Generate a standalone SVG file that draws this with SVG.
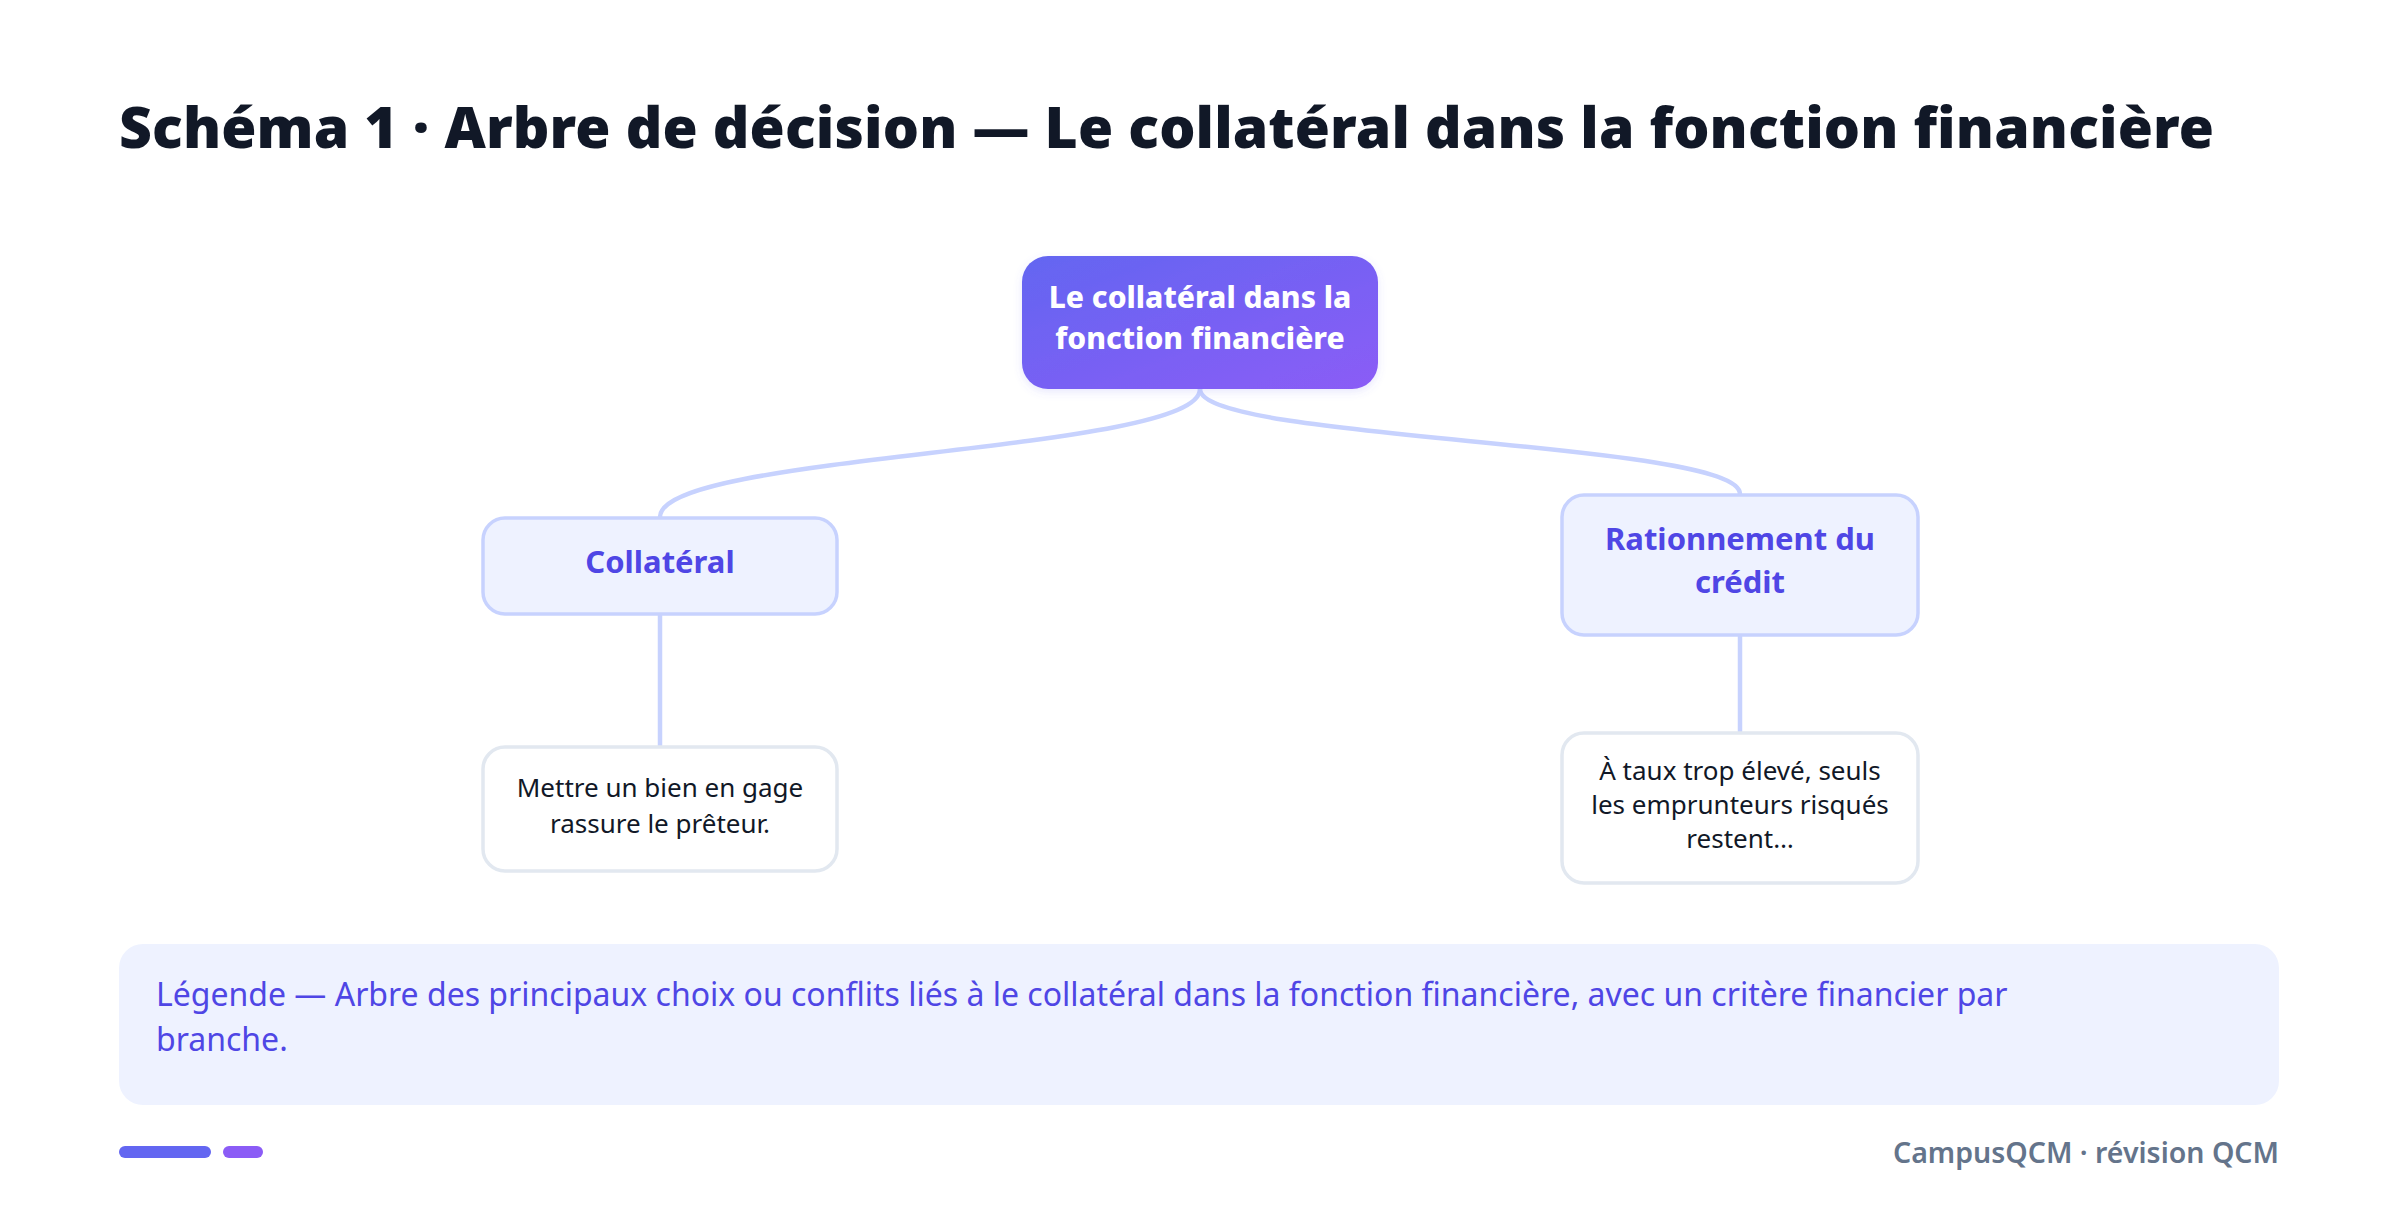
<svg xmlns="http://www.w3.org/2000/svg" width="2400" height="1214" viewBox="0 0 2400 1214">
<defs>
<linearGradient id="rootGrad" x1="0" y1="0" x2="1" y2="1">
<stop offset="0" stop-color="#6366f1"/>
<stop offset="1" stop-color="#8b5cf6"/>
</linearGradient>
<filter id="shadow" x="-10%" y="-10%" width="120%" height="130%">
<feDropShadow dx="0" dy="3" stdDeviation="4" flood-color="#6366f1" flood-opacity="0.15"/>
</filter>
</defs>
<style>
text{font-family:"Noto Sans","Open Sans","Liberation Sans",sans-serif}
.title{font-size:57px;font-weight:900;fill:#111827}
.root-t{font-size:30px;font-weight:800;fill:#ffffff;text-anchor:middle}
.mid{fill:#eef2ff;stroke:#c7d2fe;stroke-width:3.5}
.mid-t{font-size:31px;font-weight:700;fill:#4f46e5;text-anchor:middle}
.leaf{fill:#ffffff;stroke:#e2e8f0;stroke-width:3.5}
.leaf-t{font-size:26px;font-weight:400;fill:#111827;text-anchor:middle}
.edge{fill:none;stroke:#c7d2fe;stroke-width:4.5}
.legend-t{font-size:32px;fill:#4f46e5}
.foot-t{font-size:28.5px;font-weight:600;fill:#64748b;text-anchor:end}
</style>
<rect width="2400" height="1214" fill="#ffffff"/>
<text class="title" x="119" y="148" textLength="2095">Schéma 1 · Arbre de décision — Le collatéral dans la fonction financière</text>
<g id="connectors">
<path class="edge" d="M1200,389 C1200,453 660,453 660,517"/>
<path class="edge" d="M1200,389 C1200,441 1740,441 1740,494"/>
<path class="edge" d="M660,614 L660,747"/>
<path class="edge" d="M1740,635 L1740,733"/>
</g>
<g id="root">
<rect x="1022" y="256" width="356" height="133" rx="26" fill="url(#rootGrad)" filter="url(#shadow)"/>
<text class="root-t" x="1200" y="308">Le collatéral dans la</text>
<text class="root-t" x="1200" y="349">fonction financière</text>
</g>
<g id="collateral">
<rect class="mid" x="483" y="518" width="354" height="96" rx="22"/>
<text class="mid-t" x="660" y="573">Collatéral</text>
</g>
<g id="rationnement">
<rect class="mid" x="1562" y="495" width="356" height="140" rx="22"/>
<text class="mid-t" x="1740" y="550">Rationnement du</text>
<text class="mid-t" x="1740" y="593">crédit</text>
</g>
<g id="leaf-collateral">
<rect class="leaf" x="483" y="747" width="354" height="124" rx="22"/>
<text class="leaf-t" x="660" y="797">Mettre un bien en gage</text>
<text class="leaf-t" x="660" y="833">rassure le prêteur.</text>
</g>
<g id="leaf-rationnement">
<rect class="leaf" x="1562" y="733" width="356" height="150" rx="22"/>
<text class="leaf-t" x="1740" y="780">À taux trop élevé, seuls</text>
<text class="leaf-t" x="1740" y="814">les emprunteurs risqués</text>
<text class="leaf-t" x="1740" y="848">restent…</text>
</g>
<g id="legend">
<rect x="119" y="944" width="2160" height="161" rx="24" fill="#eef2ff"/>
<text class="legend-t" x="156" y="1006">Légende — Arbre des principaux choix ou conflits liés à le collatéral dans la fonction financière, avec un critère financier par</text>
<text class="legend-t" x="156" y="1051">branche.</text>
</g>
<g id="footer">
<rect x="119" y="1146" width="92" height="12" rx="6" fill="#6366f1"/>
<rect x="223" y="1146" width="40" height="12" rx="6" fill="#8b5cf6"/>
<text class="foot-t" x="2279" y="1163">CampusQCM · révision QCM</text>
</g>
</svg>
